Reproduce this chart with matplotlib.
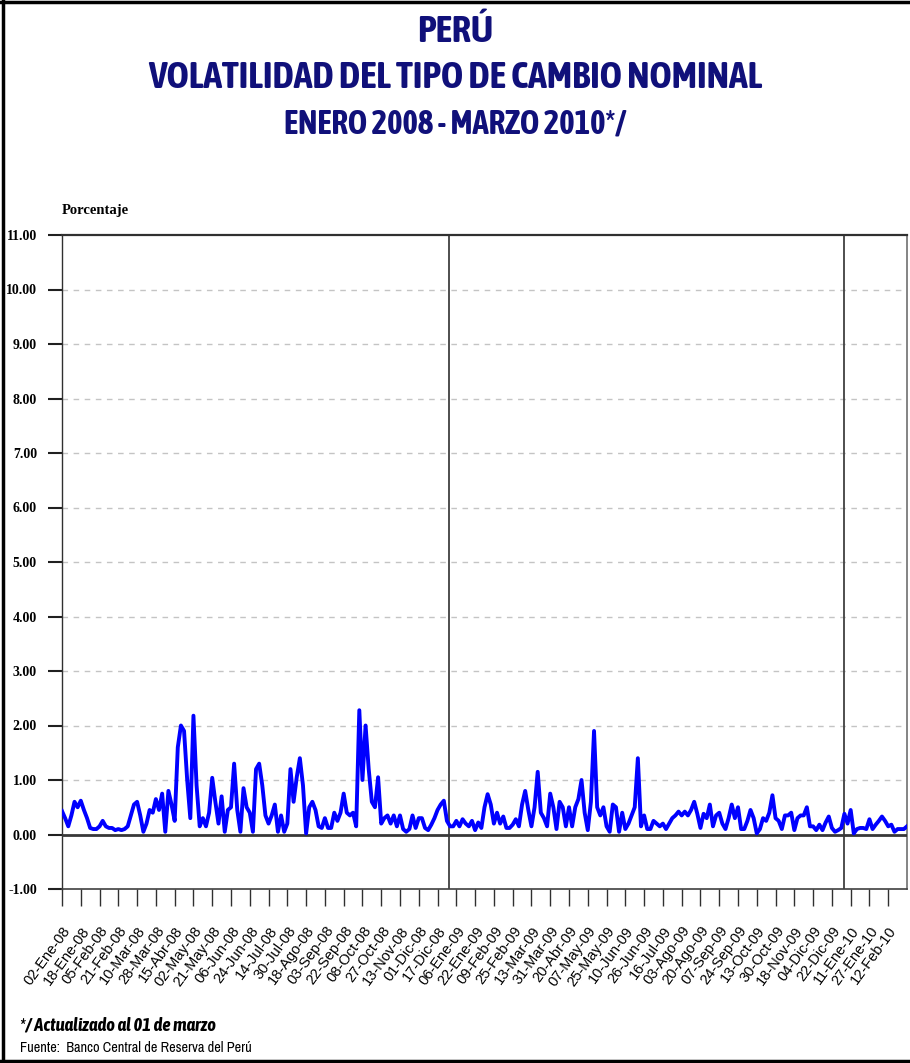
import numpy as np
import matplotlib
matplotlib.use("Agg")
import matplotlib.pyplot as plt
from matplotlib import font_manager
from matplotlib.lines import Line2D

# volatilidad diaria (%), leida cada 2 dias habiles desde 02-Ene-08
volatilidad = [
    0.43, 0.30, 0.15, 0.35, 0.60, 0.50, 0.62, 0.45, 0.30, 0.12,
    0.10, 0.10, 0.15, 0.25, 0.15, 0.12, 0.12, 0.08, 0.10, 0.08,
    0.10, 0.15, 0.35, 0.55, 0.60, 0.35, 0.05, 0.20, 0.45, 0.40,
    0.65, 0.45, 0.75, 0.05, 0.80, 0.55, 0.25, 1.60, 2.00, 1.90,
    1.00, 0.30, 2.18, 0.90, 0.15, 0.30, 0.15, 0.40, 1.04, 0.60,
    0.20, 0.70, 0.05, 0.45, 0.50, 1.30, 0.45, 0.05, 0.85, 0.50,
    0.40, 0.05, 1.20, 1.30, 0.90, 0.35, 0.20, 0.35, 0.55, 0.05,
    0.35, 0.05, 0.20, 1.20, 0.60, 1.05, 1.40, 0.90, 0.02, 0.50,
    0.60, 0.45, 0.15, 0.12, 0.30, 0.12, 0.12, 0.40, 0.25, 0.40,
    0.75, 0.40, 0.35, 0.40, 0.15, 2.28, 1.00, 2.00, 1.20, 0.60,
    0.50, 1.05, 0.20, 0.30, 0.35, 0.20, 0.35, 0.15, 0.35, 0.10,
    0.05, 0.10, 0.35, 0.12, 0.30, 0.30, 0.12, 0.08, 0.18, 0.30,
    0.45, 0.55, 0.62, 0.25, 0.15, 0.15, 0.25, 0.15, 0.28, 0.20,
    0.15, 0.25, 0.08, 0.22, 0.12, 0.50, 0.74, 0.55, 0.20, 0.40,
    0.20, 0.33, 0.12, 0.12, 0.18, 0.28, 0.15, 0.55, 0.80, 0.45,
    0.15, 0.50, 1.15, 0.40, 0.30, 0.15, 0.75, 0.50, 0.10, 0.60,
    0.50, 0.15, 0.50, 0.15, 0.50, 0.65, 1.00, 0.40, 0.08, 0.60,
    1.90, 0.50, 0.35, 0.50, 0.15, 0.05, 0.55, 0.50, 0.05, 0.40,
    0.10, 0.20, 0.35, 0.50, 1.40, 0.15, 0.35, 0.10, 0.10, 0.25,
    0.20, 0.15, 0.20, 0.10, 0.20, 0.30, 0.35, 0.42, 0.35, 0.42,
    0.35, 0.45, 0.60, 0.38, 0.12, 0.38, 0.30, 0.55, 0.15, 0.35,
    0.40, 0.20, 0.10, 0.30, 0.55, 0.30, 0.50, 0.10, 0.10, 0.25,
    0.45, 0.30, 0.02, 0.10, 0.30, 0.25, 0.40, 0.72, 0.30, 0.25,
    0.10, 0.35, 0.35, 0.40, 0.08, 0.30, 0.35, 0.35, 0.50, 0.15,
    0.15, 0.08, 0.18, 0.08, 0.22, 0.33, 0.12, 0.05, 0.08, 0.12,
    0.38, 0.20, 0.45, 0.02, 0.10, 0.12, 0.12, 0.10, 0.28, 0.10,
    0.18, 0.25, 0.33, 0.25, 0.15, 0.18, 0.05, 0.10, 0.10, 0.10,
    0.15,
]
paso = 2

etiquetas = [
    "02-Ene-08", "18-Ene-08", "05-Feb-08", "21-Feb-08", "10-Mar-08", "28-Mar-08",
    "15-Abr-08", "02-May-08", "21-May-08", "06-Jun-08", "24-Jun-08", "14-Jul-08",
    "30-Jul-08", "18-Ago-08", "03-Sep-08", "22-Sep-08", "08-Oct-08", "27-Oct-08",
    "13-Nov-08", "01-Dic-08", "17-Dic-08", "06-Ene-09", "22-Ene-09", "09-Feb-09",
    "25-Feb-09", "13-Mar-09", "31-Mar-09", "20-Abr-09", "07-May-09", "25-May-09",
    "10-Jun-09", "26-Jun-09", "16-Jul-09", "03-Ago-09", "20-Ago-09", "07-Sep-09",
    "24-Sep-09", "13-Oct-09", "30-Oct-09", "18-Nov-09", "04-Dic-09", "22-Dic-09",
    "11-Ene-10", "27-Ene-10", "12-Feb-10",
]
cada_tick = 12
cambio_anio = [247, 500]


def peso(w):
    if isinstance(w, str):
        return 700 if "bold" in w else 400
    return w


# fuente angosta: normal y en negrita si existe
angosta = "Liberation Sans"
angosta_negrita = "Liberation Sans"
for f in sorted(font_manager.fontManager.ttflist, key=lambda f: f.name):
    if "Narrow" in f.name or "Condensed" in f.name:
        if angosta == "Liberation Sans":
            angosta = f.name
        if peso(f.weight) >= 600 and angosta_negrita == "Liberation Sans":
            angosta_negrita = f.name
azul_titulo = "#10107a"

fig = plt.figure(figsize=(9.1, 10.63), dpi=100)
ax = fig.add_axes([62 / 910, 1 - 889 / 1063, 845 / 910, 654 / 1063])

x = np.arange(len(volatilidad)) * paso
ax.plot(x, volatilidad, color="#0000ff", lw=2.8, zorder=4)

ax.set_xlim(0, 540)
ax.set_ylim(-1, 11)

yt = np.arange(-1, 12)
ax.set_yticks(yt)
ax.set_yticklabels([f"{v:.2f}" for v in yt], family="Liberation Serif",
                   fontweight="bold", fontsize=10)
for v in range(1, 11):
    ax.axhline(v, color="#c4c4c4", lw=1, ls=(0, (4, 4)), zorder=1)
ax.axhline(0, color="#383838", lw=2, zorder=3)
for c in cambio_anio:
    ax.axvline(c, color="#404040", lw=1.3, zorder=2)

ax.set_xticks(np.arange(len(etiquetas)) * cada_tick)
ax.set_xticklabels(etiquetas, rotation=54, ha="right", rotation_mode="anchor",
                   fontsize=10.5, family="Liberation Sans")
ax.tick_params(axis="y", length=10, width=1.5, pad=8, color="#202020")
ax.tick_params(axis="x", length=12, width=1, pad=13, color="#303030")

ax.spines["top"].set_color("#303030")
ax.spines["top"].set_linewidth(1.6)
ax.spines["left"].set_color("#303030")
ax.spines["left"].set_linewidth(1)
ax.spines["bottom"].set_color("#404040")
ax.spines["bottom"].set_linewidth(1.2)
ax.spines["right"].set_color("#707070")
ax.spines["right"].set_linewidth(1.2)

renderer = fig.canvas.get_renderer()


def texto_ajustado(x0, y0, s, ancho_px, tam, ha="center", exacto=False, **kw):
    t = fig.text(x0, y0, s, ha=ha, va="center", fontsize=tam, **kw)
    w = t.get_window_extent(renderer).width
    if w > ancho_px or exacto:
        t.set_fontsize(tam * ancho_px / w)
    return t


texto_ajustado(0.5, 1 - 32 / 1063, "PERÚ", 76, 24, exacto=True, fontweight="bold",
               color=azul_titulo, family=angosta_negrita)
texto_ajustado(0.5, 1 - 78 / 1063, "VOLATILIDAD DEL TIPO DE CAMBIO NOMINAL", 616, 26,
               exacto=True, fontweight="bold", color=azul_titulo, family=angosta_negrita)
texto_ajustado(0.5, 1 - 124 / 1063, "ENERO 2008 - MARZO 2010*/", 342, 22,
               exacto=True, fontweight="bold", color=azul_titulo, family=angosta_negrita)

fig.text(62 / 910, 1 - 211 / 1063, "Porcentaje", ha="left", va="center", fontsize=10.5,
         fontweight="bold", family="Liberation Serif")

texto_ajustado(20 / 910, 1 - 1026 / 1063, "*/ Actualizado al 01 de marzo", 196, 14,
               ha="left", fontweight="bold", style="italic", family=angosta_negrita)
texto_ajustado(20 / 910, 1 - 1048 / 1063, "Fuente:  Banco Central de Reserva del Perú", 230, 9,
               ha="left", exacto=True, family=angosta)

# marco de la figura
for xs, ys in [([0.003, 0.003], [0.0, 1.0]), ([0.0, 1.0], [0.998, 0.998]),
               ([0.0, 1.0], [0.002, 0.002])]:
    fig.add_artist(Line2D(xs, ys, transform=fig.transFigure, color="black", lw=2.5))

fig.savefig("out.png", dpi=100)
